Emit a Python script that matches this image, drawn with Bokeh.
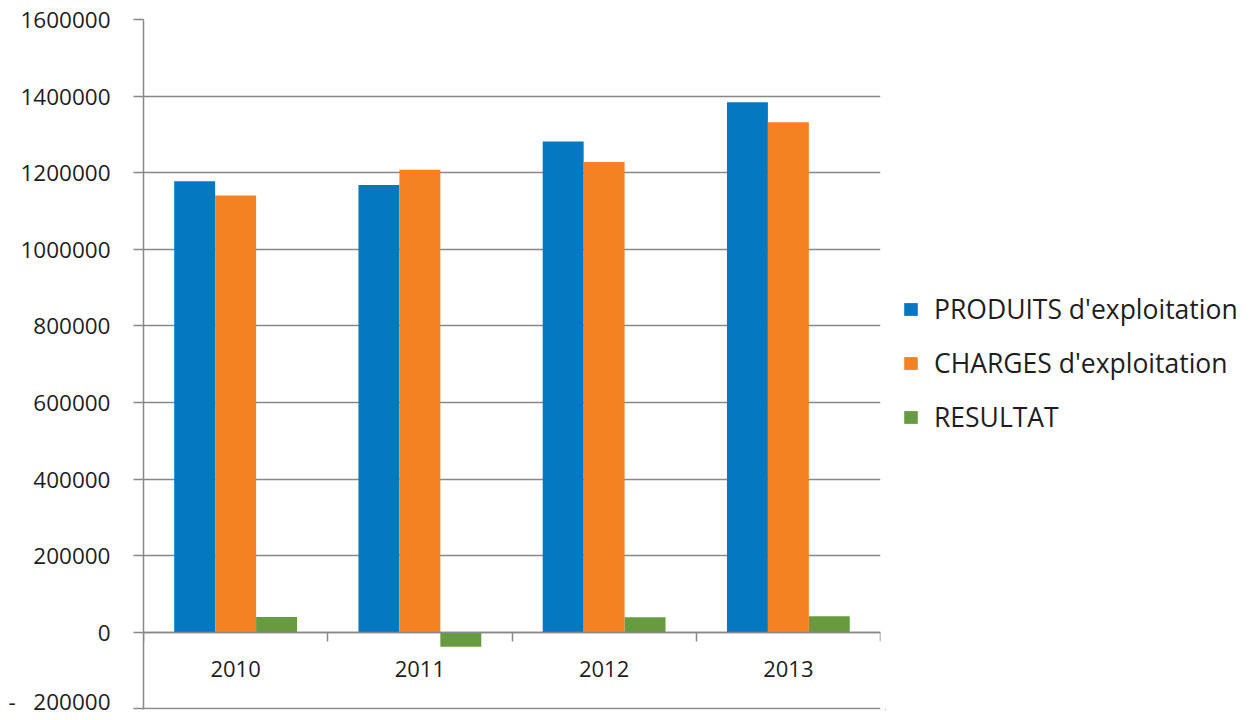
from bokeh.plotting import figure
from bokeh.models import (Range1d, FixedTicker, Legend, LegendItem, ColumnDataSource,
                          NumeralTickFormatter)
from bokeh.layouts import row
from bokeh.transform import dodge
from bokeh.embed import file_html
from bokeh.resources import INLINE

years = ["2010", "2011", "2012", "2013"]
produits = [1178000, 1167600, 1281800, 1383900]
charges = [1140400, 1207700, 1227800, 1331500]
resultat = [40000, -37600, 39200, 41800]
series_names = ["PRODUITS d'exploitation", "CHARGES d'exploitation", "RESULTAT"]
series_cols = ["produits", "charges", "resultat"]
colors = ["#0479C2", "#F58220", "#679B40"]
y_ticks = list(range(-200000, 1600001, 200000))
y_min, y_max = -200000, 1600000

FONT = "Open Sans"
GRID = "#888888"
TXT = "#1e1e1e"
H = 716

centers = [i + 0.5 for i in range(len(years))]
data = dict(x=centers, produits=produits, charges=charges, resultat=resultat)
src = ColumnDataSource(data)

bar_w = 1 / 4.5
p = figure(width=885, height=H,
           x_range=Range1d(0, len(years)), y_range=Range1d(y_min - 1500, y_max),
           output_backend="svg", toolbar_location=None,
           min_border_left=143, min_border_right=5, min_border_top=19, min_border_bottom=H - 709)
p.outline_line_color = None
p.background_fill_color = "white"

renderers = []
for k, (col, c) in enumerate(zip(series_cols, colors)):
    r = p.vbar(x=dodge('x', (k - 1) * bar_w, range=p.x_range), top=col, bottom=0,
               width=bar_w, source=src, fill_color=c, line_color=None)
    renderers.append(r)

# Y axis
yt = FixedTicker(ticks=y_ticks)
p.yaxis.ticker = yt
p.ygrid.ticker = yt
p.yaxis.formatter = NumeralTickFormatter(format="0")
p.yaxis.major_label_overrides = {-200000: "-\u00a0\u00a0\u00a0200000"}
p.yaxis.axis_line_color = GRID
p.yaxis.axis_line_width = 1.5
p.yaxis.major_tick_line_color = GRID
p.yaxis.major_tick_line_width = 1.5
p.yaxis.major_tick_out = 10
p.yaxis.major_tick_in = 0
p.yaxis.minor_tick_line_color = None
p.yaxis.major_label_standoff = 23
p.yaxis.major_label_text_font = FONT
p.yaxis.major_label_text_font_size = "22.5px"
p.yaxis.major_label_text_color = TXT

p.ygrid.grid_line_color = GRID
p.ygrid.grid_line_width = 1.5
p.xgrid.visible = False

# X axis at zero
p.xaxis.ticker = FixedTicker(ticks=centers, minor_ticks=list(range(len(years) + 1)))
p.xaxis.major_label_overrides = {c: y for c, y in zip(centers, years)}
p.xaxis.fixed_location = 0
p.xaxis.axis_line_color = GRID
p.xaxis.axis_line_width = 1.5
p.xaxis.major_tick_line_color = None
p.xaxis.major_tick_out = 0
p.xaxis.major_tick_in = 0
p.xaxis.minor_tick_line_color = GRID
p.xaxis.minor_tick_line_width = 1.5
p.xaxis.minor_tick_out = 9
p.xaxis.minor_tick_in = 0
p.xaxis.major_label_standoff = 20
p.xaxis.major_label_text_font = FONT
p.xaxis.major_label_text_font_size = "22px"
p.xaxis.major_label_text_color = TXT

# Legend panel (separate figure to the right of the chart); its proxy glyphs
# use the same data but lie outside its visible ranges, so only the legend shows.
lg = figure(width=358, height=H, x_range=Range1d(100, 101), y_range=Range1d(1e7, 1e7 + 1),
            output_backend="svg", toolbar_location=None,
            min_border_left=0, min_border_right=0, min_border_top=0, min_border_bottom=0)
lg.outline_line_color = None
lg.axis.visible = False
lg.grid.visible = False
lsrc = ColumnDataSource(dict(data))
proxies = [lg.vbar(x='x', top=col, width=bar_w, source=lsrc, fill_color=c, line_color=None)
           for col, c in zip(series_cols, colors)]

legend = Legend(items=[LegendItem(label=n, renderers=[r]) for n, r in zip(series_names, proxies)],
                location=(17, H - 712 + 270), glyph_width=17, glyph_height=16, label_standoff=15,
                label_height=34, spacing=18, padding=0, margin=0,
                border_line_color=None, background_fill_alpha=0,
                label_text_font=FONT, label_text_font_size="26.5px", label_text_color=TXT)
lg.add_layout(legend)

layout = row(p, lg)
open("out.html", "w").write(file_html(layout, INLINE))
